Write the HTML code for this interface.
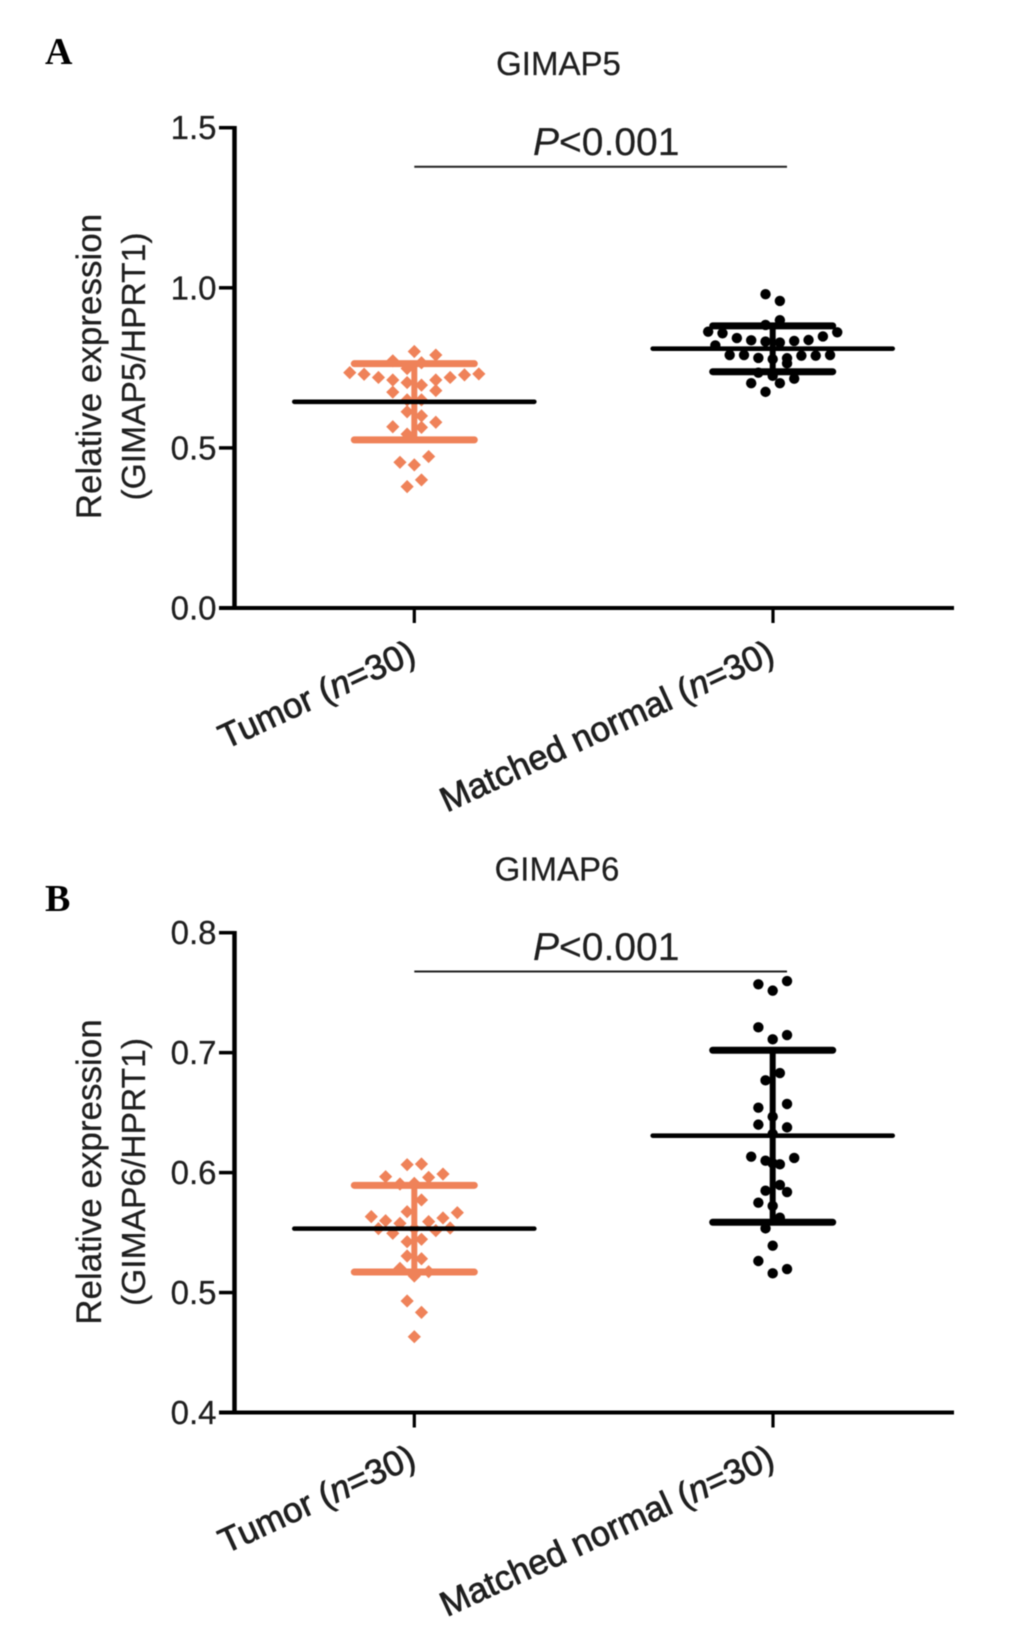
<!DOCTYPE html>
<html lang="en">
<head>
<meta charset="utf-8">
<title>GIMAP5 and GIMAP6 relative expression</title>
<style>
  html, body { margin: 0; padding: 0; background: #ffffff; }
  body { width: 1033px; height: 1642px; overflow: hidden; }
  svg { display: block; font-family: "Liberation Sans", sans-serif; fill: #1f1f1f; filter: blur(0.4px); }
  .panel-letter { font-family: "Liberation Serif", serif; font-weight: bold; font-size: 38px; fill: #000; }
  .title { font-size: 33px; text-anchor: middle; stroke: #1f1f1f; stroke-width: 0.25px; }
  .pval { font-size: 39px; stroke: #1f1f1f; stroke-width: 0.2px; }
  .ytitle { font-size: 35px; text-anchor: middle; stroke: #1f1f1f; stroke-width: 0.25px; }
  .tick { font-size: 33px; text-anchor: end; stroke: #1f1f1f; stroke-width: 0.25px; }
  .cat { font-size: 35px; text-anchor: end; stroke: #1f1f1f; stroke-width: 0.75px; }
</style>
</head>
<body>
<svg id="fig" width="1033" height="1642" viewBox="0 0 1033 1642" xmlns="http://www.w3.org/2000/svg">
  <rect width="1033" height="1642" fill="#ffffff"/>

  <g id="panelA">
    <text class="panel-letter" x="45" y="64">A</text>
    <text class="title" x="558.5" y="75">GIMAP5</text>
    <text class="pval" x="533" y="155"><tspan font-style="italic">P</tspan>&lt;0.001</text>
    <text class="ytitle" transform="translate(101 366.5) rotate(-90)">Relative expression</text>
    <text class="ytitle" style="font-size:33.6px" transform="translate(145 366.5) rotate(-90)">(GIMAP5/HPRT1)</text>
  </g>

  <g id="panelB">
    <text class="panel-letter" x="45" y="911">B</text>
    <text class="title" x="557" y="880.5">GIMAP6</text>
    <text class="pval" x="533" y="960"><tspan font-style="italic">P</tspan>&lt;0.001</text>
    <text class="ytitle" transform="translate(101 1172) rotate(-90)">Relative expression</text>
    <text class="ytitle" style="font-size:33.6px" transform="translate(145 1172) rotate(-90)">(GIMAP6/HPRT1)</text>
  </g>
</svg>

<script>
// ---- Data ----
const categoryNames = ['Tumor', 'Matched normal'];
const categorySampleSize = ['30', '30'];

const gimap5Ticks = [0.0, 0.5, 1.0, 1.5];
const gimap5TickLabels = ['0.0', '0.5', '1.0', '1.5'];
const gimap5Significance = [1.378];
// stats are [lower error, mean, upper error]
const gimap5TumorStats = [0.525, 0.644, 0.763];
const gimap5NormalStats = [0.738, 0.810, 0.881];
const gimap5TumorValues = [0.801, 0.790, 0.772, 0.766, 0.735, 0.730, 0.720, 0.712, 0.704, 0.696, 0.712, 0.720, 0.728, 0.731, 0.748, 0.674, 0.679, 0.650, 0.650, 0.613, 0.600, 0.566, 0.564, 0.580, 0.543, 0.473, 0.455, 0.447, 0.400, 0.379];
const gimap5TumorSwarm = [0, 3, -3, 1, -9, -7, -5, -3, -1, 1, 3, 5, 7, 9, -1, -3, 3, -1, 1, -1, 1, -3, 1, 3, -1, 2, -2, 0, 1, -1];
const gimap5NormalValues = [0.980, 0.959, 0.899, 0.884, 0.863, 0.858, 0.843, 0.836, 0.832, 0.829, 0.834, 0.837, 0.848, 0.861, 0.820, 0.790, 0.790, 0.781, 0.777, 0.780, 0.788, 0.788, 0.790, 0.764, 0.735, 0.725, 0.716, 0.702, 0.702, 0.675];
const gimap5NormalSwarm = [-1, 1, 1, -1, -9, -7, -5, -3, -1, 1, 3, 5, 7, 9, -8, -6, -4, -2, 0, 2, 4, 6, 8, 2, -2, 0, 3, 1, -3, -1];

const gimap6Ticks = [0.4, 0.5, 0.6, 0.7, 0.8];
const gimap6TickLabels = ['0.4', '0.5', '0.6', '0.7', '0.8'];
const gimap6Significance = [0.7677];
const gimap6TumorStats = [0.5171, 0.5533, 0.5894];
const gimap6NormalStats = [0.5586, 0.6308, 0.7020];
const gimap6TumorValues = [0.6066, 0.6072, 0.5966, 0.5988, 0.5960, 0.5905, 0.5910, 0.5772, 0.5674, 0.5633, 0.5666, 0.5622, 0.5599, 0.5577, 0.5591, 0.5533, 0.5538, 0.5516, 0.5494, 0.5533, 0.5424, 0.5444, 0.5305, 0.5282, 0.5202, 0.5174, 0.5138, 0.4930, 0.4835, 0.4632];
const gimap6TumorSwarm = [-1, 1, -4, 4, 2, -2, 0, 1, -1, -6, 6, 4, -4, -2, 2, -5, 5, 3, -3, 0, -1, 1, -1, 1, -2, 2, 0, -1, 1, 0];
const gimap6NormalValues = [0.7570, 0.7517, 0.7597, 0.7211, 0.7111, 0.7147, 0.6830, 0.6769, 0.6541, 0.6572, 0.6466, 0.6400, 0.6377, 0.6322, 0.6133, 0.6122, 0.6099, 0.6069, 0.6077, 0.5897, 0.5849, 0.5838, 0.5749, 0.5722, 0.5624, 0.5535, 0.5391, 0.5263, 0.5196, 0.5160];
const gimap6NormalSwarm = [-2, 0, 2, -2, 0, 2, 1, -1, -2, 2, 0, -2, 2, 0, -3, 3, -1, 1, 0, 1, -1, 2, -2, 0, 1, -1, 0, -2, 2, 0];

// ---- Drawing ----
const SVG_NS = 'http://www.w3.org/2000/svg';
const ORANGE = '#ef8259';
const INK = '#000000';

function svgEl(tag, attrs, parent) {
  const el = document.createElementNS(SVG_NS, tag);
  for (const k in attrs) el.setAttribute(k, attrs[k]);
  parent.appendChild(el);
  return el;
}

function drawPanel(group, cfg) {
  const axisX = 234.5, axisRight = 954;
  const yScale = v => cfg.yBottom - (v - cfg.yMin) * (cfg.yBottom - cfg.yTop) / (cfg.yMax - cfg.yMin);
  const xScale = i => 414.3 + i * 358.7;
  const swarmUnit = 7.17;

  // y-axis ticks and labels
  cfg.ticks.forEach((t, i) => {
    const tick = svgEl('line', { x1: 219, x2: axisX, y1: yScale(t), y2: yScale(t), stroke: INK, 'stroke-width': 3.5 }, group);
    
    
    const label = svgEl('text', { class: 'tick', x: 216.5, y: yScale(t) + 11.5 }, group);
    label.textContent = cfg.tickLabels[i];
    
    
  });

  // axes
  const yAxis = svgEl('line', { x1: axisX, x2: axisX, y1: yScale(cfg.yMax) - 1.7, y2: cfg.yBottom + 2, stroke: INK, 'stroke-width': 4.5 }, group);
  
  
  const xAxis = svgEl('line', { x1: 219, x2: axisRight, y1: cfg.yBottom, y2: cfg.yBottom, stroke: INK, 'stroke-width': 4 }, group);
  
  

  // category ticks and rotated labels
  categoryNames.forEach((name, i) => {
    const tick = svgEl('line', { x1: xScale(i), x2: xScale(i), y1: cfg.yBottom, y2: cfg.yBottom + 15, stroke: INK, 'stroke-width': 3.2 }, group);
    
    
    const label = svgEl('text', { class: 'cat', transform: 'translate(' + (xScale(i) + 3.5) + ' ' + (cfg.yBottom + 53) + ') rotate(-24.7)' }, group);
    
    
    label.appendChild(document.createTextNode(name + ' ('));
    const n = svgEl('tspan', { 'font-style': 'italic' }, label);
    n.textContent = 'n';
    label.appendChild(document.createTextNode('=' + categorySampleSize[i] + ')'));
  });

  // significance bar
  const sig = svgEl('line', { x1: xScale(0), x2: xScale(1) + 14, y1: yScale(cfg.significance[0]), y2: yScale(cfg.significance[0]), stroke: '#222', 'stroke-width': 2 }, group);
  
  

  // tumor diamonds
  const cx0 = xScale(0);
  cfg.tumorValues.forEach((v, i) => {
    const x = cx0 + cfg.tumorSwarm[i] * swarmUnit, y = yScale(v), r = 6.6;
    const d = svgEl('polygon', { points: [x, y - r, x + r, y, x, y + r, x - r, y].join(' '), fill: ORANGE }, group);
    
    
  });
  // normal circles
  const cx1 = xScale(1) - 0.3;
  cfg.normalValues.forEach((v, i) => {
    const c = svgEl('circle', { cx: cx1 + cfg.normalSwarm[i] * swarmUnit, cy: yScale(v), r: 5.2, fill: INK }, group);
    
    
  });

  // error bars + mean lines
  [[cfg.tumorStats, ORANGE, cx0], [cfg.normalStats, INK, cx1]].forEach(s => {
    const stats = s[0], color = s[1], cx = s[2];
    const stem = svgEl('line', { x1: cx, x2: cx, y1: yScale(stats[0]), y2: yScale(stats[2]), stroke: color, 'stroke-width': 6 }, group);
    
    
    const lower = svgEl('line', { x1: cx - 60, x2: cx + 60, y1: yScale(stats[0]), y2: yScale(stats[0]), stroke: color, 'stroke-width': 7, 'stroke-linecap': 'round' }, group);
    
    
    const upper = svgEl('line', { x1: cx - 60, x2: cx + 60, y1: yScale(stats[2]), y2: yScale(stats[2]), stroke: color, 'stroke-width': 7, 'stroke-linecap': 'round' }, group);
    
    
    const mean = svgEl('line', { x1: cx - 120, x2: cx + 120, y1: yScale(stats[1]), y2: yScale(stats[1]), stroke: INK, 'stroke-width': 4.6, 'stroke-linecap': 'round' }, group);
    
    
  });
}

drawPanel(document.getElementById('panelA'), {
  yMin: 0, yMax: 1.5, yBottom: 608, yTop: 127.7,
  ticks: gimap5Ticks, tickLabels: gimap5TickLabels, significance: gimap5Significance,
  tumorStats: gimap5TumorStats, normalStats: gimap5NormalStats,
  tumorValues: gimap5TumorValues, tumorSwarm: gimap5TumorSwarm,
  normalValues: gimap5NormalValues, normalSwarm: gimap5NormalSwarm
});
drawPanel(document.getElementById('panelB'), {
  yMin: 0.4, yMax: 0.8, yBottom: 1412.5, yTop: 932.7,
  ticks: gimap6Ticks, tickLabels: gimap6TickLabels, significance: gimap6Significance,
  tumorStats: gimap6TumorStats, normalStats: gimap6NormalStats,
  tumorValues: gimap6TumorValues, tumorSwarm: gimap6TumorSwarm,
  normalValues: gimap6NormalValues, normalSwarm: gimap6NormalSwarm
});
</script>
</body>
</html>
